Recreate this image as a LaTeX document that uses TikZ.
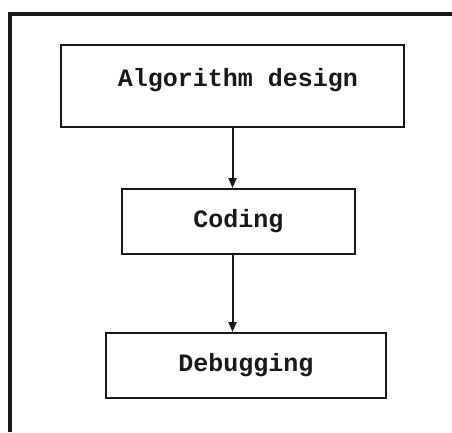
\documentclass[tikz,border=0pt]{standalone}
\usepackage{fontspec}
\setmonofont{Liberation Mono}
\usetikzlibrary{arrows.meta}
\begin{document}
\begin{tikzpicture}[x=1pt,y=-1pt,
  box/.style={draw=black!90,line width=2pt,rectangle,inner sep=0pt,fill=white},
  lbl/.style={font=\fontsize{25}{28}\selectfont\ttfamily\bfseries,text=black!90},
  arr/.style={draw=black!90,line width=2pt,-{Triangle[length=10pt,width=8pt]}},
  frame/.style={draw=black!90,line width=3.5pt}]
\useasboundingbox (0,0) rectangle (452,432);
\coordinate (fbl) at (10,432);
\coordinate (ftl) at (10,14);
\coordinate (ftr) at (452,14);
\draw[frame] (fbl) -- (ftl) -- (ftr);
\node[box,minimum width=343pt,minimum height=82pt] (alg) at (232.5,86) {};
\node[lbl] (algtext) at (238,80) {Algorithm design};
\node[box,lbl,minimum width=233pt,minimum height=65pt] (coding) at (238.5,221.5) {Coding};
\node[box,lbl,minimum width=280pt,minimum height=65pt] (debug) at (246,365.5) {Debugging};
\draw[arr] (alg.south) -- (alg.south |- coding.north);
\draw[arr] (coding.south -| alg.south) -- (debug.north -| alg.south);
\end{tikzpicture}
\end{document}
